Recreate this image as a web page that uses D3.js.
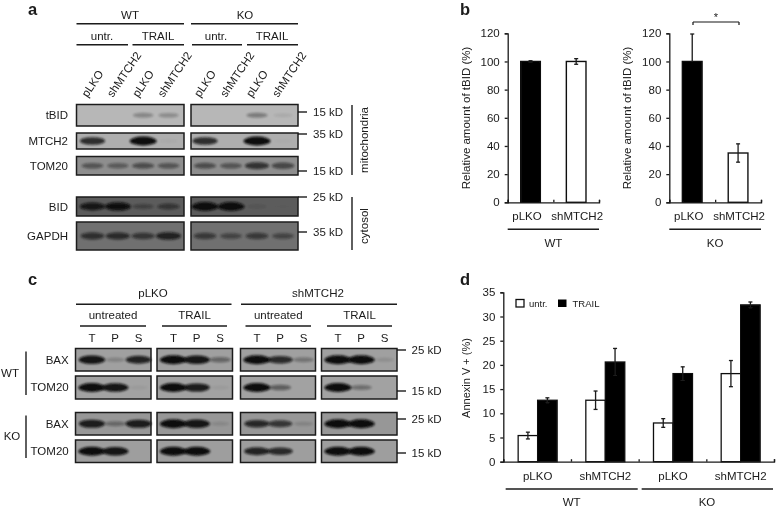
<!DOCTYPE html>
<html>
<head>
<meta charset="utf-8">
<script src="https://cdn.jsdelivr.net/npm/d3@7"></script>
<style>
html, body { margin: 0; background: #fff; }
text { font-family: "Liberation Sans", Arial, sans-serif; font-size: 11.5px; fill: #1a1a1a; }
</style>
</head>
<body>
<div id="chart"></div>
<script>
// panel a: band strength per lane, [left blot, right blot]
var aLanes = ["pLKO", "shMTCH2", "pLKO ", "shMTCH2 "];
var tBIDBands = [[0, 0, 0.28, 0.25], [0, 0, 0.35, 0.08]];
var mtch2Bands = [[0.8, 0, 1, 0.03], [0.8, 0, 1, 0.02]];
var tom20Bands = [[0.45, 0.4, 0.5, 0.45], [0.5, 0.45, 0.7, 0.55]];
var bidBands = [[0.85, 0.95, 0.35, 0.5], [1, 1, 0.1, 0.02]];
var gapdhBands = [[0.65, 0.7, 0.6, 0.8], [0.55, 0.45, 0.55, 0.45]];

// panel b
var bCategories = ["pLKO", "shMTCH2"];
var bWT = [100, 100];
var bWTErr = [0.5, 2];
var bKO = [100, 35];
var bKOErr = [19.5, 6.5];
var bTicks = [0, 20, 40, 60, 80, 100, 120];

// panel c: T, P, S band strength, four blots per row
var cLanes = ["T", "P", "S"];
var cBaxWT = [[0.95, 0.2, 0.85], [1, 0.95, 0.4], [1, 0.8, 0.3], [1, 1, 0.12]];
var cTomWT = [[1, 0.95, 0.05], [1, 0.9, 0.05], [1, 0.45, 0], [1, 0.35, 0]];
var cBaxKO = [[0.9, 0.35, 0.9], [1, 0.95, 0.12], [0.8, 0.7, 0.15], [1, 1, 0]];
var cTomKO = [[1, 0.95, 0], [1, 1, 0], [0.85, 0.8, 0], [1, 1, 0]];

// panel d
var dCategories = ["pLKO", "shMTCH2", "pLKO ", "shMTCH2 "];
var dUntr = [5.4, 12.7, 8, 18.2];
var dUntrErr = [0.7, 1.9, 0.9, 2.7];
var dTrail = [12.7, 20.6, 18.2, 32.4];
var dTrailErr = [0.5, 2.8, 1.4, 0.6];
var dTicks = [0, 5, 10, 15, 20, 25, 30, 35];

var width = 776, height = 509;
var ink = "#1a1a1a";

var root = d3.select("#chart").append("svg")
    .attr("width", width).attr("height", height)
    .style("display", "block");

var defs = root.append("defs");
defs.append("filter").attr("id", "soft")
    .attr("filterUnits", "userSpaceOnUse")
    .attr("x", 0).attr("y", 0).attr("width", width).attr("height", height)
    .append("feGaussianBlur").attr("stdDeviation", 0.4);
defs.append("filter").attr("id", "band")
    .attr("x", "-30%").attr("y", "-80%").attr("width", "160%").attr("height", "260%")
    .append("feGaussianBlur").attr("stdDeviation", 0.9);

var svg = root.append("g").attr("filter", "url(#soft)");

function label(x, y, str, anchor, size, weight) {
    return svg.append("text").attr("x", x).attr("y", y)
        .attr("text-anchor", anchor || "middle")
        .style("font-size", size ? size + "px" : null)
        .style("font-weight", weight || null)
        .text(str);
}
function rule(x1, y1, x2, y2, w) {
    svg.append("line").attr("x1", x1).attr("y1", y1).attr("x2", x2).attr("y2", y2)
        .attr("stroke", ink).attr("stroke-width", w || 1.4);
}
function vLabel(x, y, str, size) {
    svg.append("text").attr("transform", "translate(" + x + "," + y + ") rotate(-90)")
        .attr("text-anchor", "middle")
        .style("font-size", size ? size + "px" : null)
        .text(str);
}

var rxScale = d3.scaleLinear().domain([0, 1]).range([9, 13.5]);
var ryScale = d3.scaleLinear().domain([0, 1]).range([1.6, 4.4]);

// one blot rectangle with blurred bands on it
function blot(x0, x1, y0, y1, grey, lanes, strengths, first, last) {
    var lane = d3.scalePoint().domain(lanes).range([x0 + first, x0 + last]);
    var g = svg.append("g");
    g.append("rect").attr("x", x0).attr("y", y0).attr("width", x1 - x0).attr("height", y1 - y0)
        .attr("fill", grey).attr("stroke", "#1c1c1c").attr("stroke-width", 1.5);
    g.selectAll("ellipse").data(strengths).enter().append("ellipse")
        .attr("cx", function(d, i) { return lane(lanes[i]); })
        .attr("cy", (y0 + y1) / 2)
        .attr("rx", function(d) { return rxScale(d); })
        .attr("ry", function(d) { return ryScale(d); })
        .attr("fill", "#0c0c0c")
        .attr("opacity", function(d) { return d; })
        .attr("filter", "url(#band)");
}

// ---- panel a
label(28, 15.2, "a", "start", 16.5, "bold");
label(130, 19, "WT"); label(245, 19, "KO");
rule(76.5, 23.7, 184, 23.7); rule(191, 23.7, 298, 23.7);
label(102, 40, "untr."); label(158, 40, "TRAIL");
label(216, 40, "untr."); label(272, 40, "TRAIL");
rule(76.5, 44.7, 128, 44.7); rule(132.5, 44.7, 184, 44.7);
rule(192, 44.7, 242, 44.7); rule(247, 44.7, 298, 44.7);

var aBlots = [
    { x0: 76.5, x1: 184, first: 16, last: 92 },
    { x0: 191, x1: 298, first: 14, last: 92 }
];
aBlots.forEach(function(b) {
    var lane = d3.scalePoint().domain(aLanes).range([b.x0 + b.first, b.x0 + b.last]);
    aLanes.forEach(function(name) {
        svg.append("text")
            .attr("transform", "translate(" + (lane(name) - 5) + ",98) rotate(-56)")
            .text(name.trim());
    });
});

var aRows = [
    { name: "tBID", bands: tBIDBands, y0: 104.5, y1: 126, grey: "#b7b7b7" },
    { name: "MTCH2", bands: mtch2Bands, y0: 133, y1: 149, grey: "#aeaeae" },
    { name: "TOM20", bands: tom20Bands, y0: 156.5, y1: 175, grey: "#8e8e8e" },
    { name: "BID", bands: bidBands, y0: 197, y1: 216, grey: "#5c5c5c" },
    { name: "GAPDH", bands: gapdhBands, y0: 222, y1: 250, grey: "#6f6f6f" }
];
aRows.forEach(function(r) {
    label(68, (r.y0 + r.y1) / 2 + 4, r.name, "end");
    aBlots.forEach(function(b, i) {
        blot(b.x0, b.x1, r.y0, r.y1, r.grey, aLanes, r.bands[i], b.first, b.last);
    });
});

[[112, "15 kD"], [134, "35 kD"], [171, "15 kD"], [197, "25 kD"], [232, "35 kD"]].forEach(function(k) {
    rule(298, k[0], 307, k[0]);
    label(313, k[0] + 4, k[1], "start");
});
rule(352, 105, 352, 175); rule(352, 197, 352, 250);
vLabel(368, 140, "mitochondria"); vLabel(368, 226, "cytosol");

// ---- bar chart helpers
function yAxis(scale, x, ticks) {
    var g = svg.append("g").attr("transform", "translate(" + x + ",0)")
        .call(d3.axisLeft(scale).tickValues(ticks).tickSize(3).tickPadding(5));
    g.selectAll("path, line").attr("stroke", ink).attr("stroke-width", 1.3);
    g.selectAll("text").style("font-size", "11.5px");
}
function xLine(scale, y, ticks) {
    var g = svg.append("g").attr("transform", "translate(0," + y + ")")
        .call(d3.axisBottom(scale).tickValues(ticks).tickSize(-2.5).tickFormat(""));
    g.selectAll("path, line").attr("stroke", ink).attr("stroke-width", 1.3);
}
function errorBars(xFn, vals, errs, y, cap, upperOnly) {
    vals.forEach(function(v, i) {
        var cx = xFn(i), top = y(v + errs[i]), bottom = upperOnly && upperOnly[i] ? y(v) : y(v - errs[i]);
        rule(cx, top, cx, bottom, 1.3);
        rule(cx - cap, top, cx + cap, top, 1.3);
        if (!(upperOnly && upperOnly[i])) rule(cx - cap, bottom, cx + cap, bottom, 1.3);
    });
}

// ---- panel b
label(460, 15.2, "b", "start", 16.5, "bold");
var bY = d3.scaleLinear().domain([0, 120]).range([202.3, 33.3]);

function bChart(axisX, axisEnd, vals, errs, groupName, titleX, upperOnly) {
    var x = d3.scaleBand().domain(bCategories).range([axisX, axisEnd]).paddingInner(0.0);
    var barW = x.bandwidth() * 0.43;
    var centre = function(i) { return x(bCategories[i]) + x.bandwidth() / 2; };
    svg.selectAll(null).data(vals).enter().append("rect")
        .attr("x", function(d, i) { return centre(i) - barW / 2; })
        .attr("y", function(d) { return bY(d); })
        .attr("width", barW)
        .attr("height", function(d) { return bY(0) - bY(d); })
        .attr("fill", function(d, i) { return i === 0 ? "#000" : "#fff"; })
        .attr("stroke", "#111").attr("stroke-width", 1.4);
    errorBars(centre, vals, errs, bY, 2, upperOnly);
    yAxis(bY, axisX, bTicks);
    var xl = d3.scaleLinear().domain([0, 2]).range([axisX, axisEnd]);
    xLine(xl, bY(0), [0, 1, 2]);
    bCategories.forEach(function(c, i) { label(centre(i) - (i === 0 ? 3.5 : -1), 220, c); });
    rule(axisX, 229.3, axisEnd, 229.3);
    label((axisX + axisEnd) / 2, 247, groupName);
    vLabel(titleX, 118, "Relative amount of tBID (%)");
}
bChart(507.7, 599, bWT, bWTErr, "WT", 469.5, null);
bChart(669.3, 761, bKO, bKOErr, "KO", 631, [true, false]);
rule(693, 22, 739, 22, 1.2); rule(693, 22, 693, 25, 1.2); rule(739, 22, 739, 25, 1.2);
label(716, 21, "*", "middle", 11);

// ---- panel c
label(28, 285, "c", "start", 16.5, "bold");
label(153, 297, "pLKO"); label(318, 297, "shMTCH2");
rule(76, 304.3, 231.5, 304.3); rule(241, 304.3, 397, 304.3);

var cBlots = [
    { x0: 75.5, x1: 151, name: "untreated", l0: 80, l1: 146 },
    { x0: 157, x1: 232.5, name: "TRAIL", l0: 162, l1: 227 },
    { x0: 240.5, x1: 315.5, name: "untreated", l0: 245.5, l1: 311 },
    { x0: 321.5, x1: 397, name: "TRAIL", l0: 327, l1: 392 }
];
cBlots.forEach(function(b) {
    label((b.l0 + b.l1) / 2, 319, b.name);
    rule(b.l0, 326, b.l1, 326);
    var lane = d3.scalePoint().domain(cLanes).range([b.x0 + 16.4, b.x0 + 63]);
    cLanes.forEach(function(n) { label(lane(n), 342, n); });
});

var cRows = [
    { name: "BAX", bands: cBaxWT, y0: 348.5, y1: 371, grey: "#a0a0a0" },
    { name: "TOM20", bands: cTomWT, y0: 376, y1: 399, grey: "#a2a2a2" },
    { name: "BAX", bands: cBaxKO, y0: 412.5, y1: 435, grey: "#979797" },
    { name: "TOM20", bands: cTomKO, y0: 440, y1: 462.5, grey: "#9e9e9e" }
];
cRows.forEach(function(r) {
    label(68.7, (r.y0 + r.y1) / 2 + 3.8, r.name, "end");
    cBlots.forEach(function(b, i) {
        blot(b.x0, b.x1, r.y0, r.y1, r.grey, cLanes, r.bands[i], 16.4, 63);
    });
});
[[350, "25 kD"], [391, "15 kD"], [419, "25 kD"], [453, "15 kD"]].forEach(function(k) {
    rule(397, k[0], 406, k[0]);
    label(411.5, k[0] + 4, k[1], "start");
});
rule(26, 351.5, 26, 395); rule(26, 415.5, 26, 458);
label(10, 377, "WT"); label(12, 440, "KO");

// ---- panel d
label(460, 285, "d", "start", 16.5, "bold");
var dY = d3.scaleLinear().domain([0, 35]).range([461.7, 292.3]);
var dX = d3.scaleBand().domain(dCategories).range([503.3, 774]);
var dBarW = dX.bandwidth() * 0.288;
function dCentre(i) { return dX(dCategories[i]) + dX.bandwidth() / 2 + 0.5; }

[[dUntr, dUntrErr, "#fff", -1], [dTrail, dTrailErr, "#000", 0]].forEach(function(s) {
    svg.selectAll(null).data(s[0]).enter().append("rect")
        .attr("x", function(d, i) { return dCentre(i) + s[3] * dBarW; })
        .attr("y", function(d) { return dY(d); })
        .attr("width", dBarW)
        .attr("height", function(d) { return dY(0) - dY(d); })
        .attr("fill", s[2]).attr("stroke", "#111").attr("stroke-width", 1.3);
});
errorBars(function(i) { return dCentre(i) - dBarW / 2; }, dUntr, dUntrErr, dY, 2);
errorBars(function(i) { return dCentre(i) + dBarW / 2; }, dTrail, dTrailErr, dY, 2);
yAxis(dY, 503.3, dTicks);
xLine(d3.scaleLinear().domain([0, 4]).range([503.3, 774]), dY(0), [0, 1, 2, 3, 4]);
dCategories.forEach(function(c, i) { label(dCentre(i), 480, c.trim()); });
rule(505.7, 489, 637.7, 489); rule(641.7, 489, 773, 489);
label(571.7, 506, "WT"); label(707, 506, "KO");
vLabel(470, 378, "Annexin V + (%)", 11);

// legend
svg.append("rect").attr("x", 516).attr("y", 299.5).attr("width", 8).attr("height", 7.5)
    .attr("fill", "#fff").attr("stroke", "#111").attr("stroke-width", 1.3);
label(529, 306.5, "untr.", "start", 9.5);
svg.append("rect").attr("x", 558).attr("y", 299.5).attr("width", 8.5).attr("height", 7.5).attr("fill", "#000");
label(572.5, 306.5, "TRAIL", "start", 9.5);
</script>
</body>
</html>
